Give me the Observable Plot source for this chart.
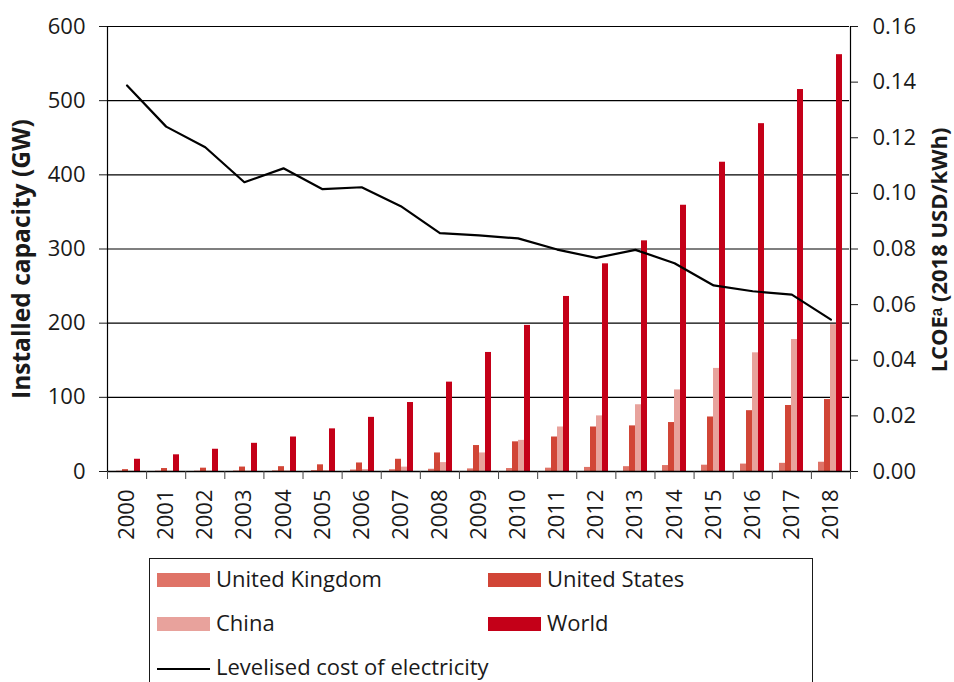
<!DOCTYPE html>
<html>
<head>
<meta charset="utf-8">
<script src="https://cdn.jsdelivr.net/npm/d3@7"></script>
<script src="https://cdn.jsdelivr.net/npm/@observablehq/plot@0.6"></script>
<style>
  html, body { margin: 0; padding: 0; background: #fff; }
  #wrap { position: relative; width: 954px; height: 682px; overflow: hidden; font-family: "Open Sans", sans-serif; color: #1a1a1a; }
  #wrap svg { position: absolute; left: 0; top: 0; }
  #legend { position: absolute; left: 149px; top: 558px; width: 664px; height: 200px; border: 1.3px solid #1a1a1a; box-sizing: border-box; }
  .item { position: absolute; font-size: 22px; line-height: 1; white-space: nowrap; }
  .sw { position: absolute; }
</style>
</head>
<body>
<div id="wrap"><div id="legend"></div></div>
<script>
// ---- data ----
const years = [2000, 2001, 2002, 2003, 2004, 2005, 2006, 2007, 2008, 2009, 2010, 2011, 2012, 2013, 2014, 2015, 2016, 2017, 2018];
const ukGW    = [0.4, 0.5, 0.5, 0.7, 0.9, 1.3, 2, 2.4, 3, 3.5, 4, 4.5, 5.5, 6.5, 8, 8.5, 10, 11, 12.5];
const usGW    = [2.5, 4, 4.5, 6, 6.5, 9, 11.5, 16.5, 25, 35, 40, 46.5, 60, 61.5, 66, 73.5, 82, 89, 97];
const chinaGW = [0.3, 0.4, 0.5, 0.6, 0.8, 1.3, 2.6, 5.9, 12, 25, 42, 60, 75, 90, 110, 139, 160, 178, 198];
const worldGW = [16.5, 22.5, 30, 38, 46.5, 57.5, 73, 93, 120.5, 160.5, 197, 236, 280, 311, 359, 417, 469, 515, 562];
const lcoe    = [0.1388, 0.124, 0.1166, 0.104, 0.109, 0.1015, 0.1022, 0.0954, 0.0857, 0.0849, 0.0838, 0.0798, 0.0768, 0.0797, 0.0749, 0.0669, 0.0648, 0.0636, 0.0546];
const seriesNames = ["United Kingdom", "United States", "China", "World"];
const seriesColors = ["#df7367", "#d14536", "#e8a29c", "#c40018"];
const capTicks = [0, 100, 200, 300, 400, 500, 600];
const lcoeTicks = [0, 0.02, 0.04, 0.06, 0.08, 0.10, 0.12, 0.14, 0.16];
const lineName = "Levelised cost of electricity";
const leftTitle = "Installed capacity (GW)";
const rightTitle = "LCOEᵃ (2018 USD/kWh)";

const seriesValues = [ukGW, usGW, chinaGW, worldGW];
const rows = years.flatMap((yr, i) => seriesNames.map((s, k) => ({year: yr, series: s, value: seriesValues[k][i]})));
const lcoeRows = years.map((yr, i) => ({year: yr, lcoe: lcoe[i]}));
const bounds = [years[0] - 0.5, ...years.map(y => y + 0.5)];

const W = 954, H = 550;
const M = {marginLeft: 107, marginRight: 104, marginTop: 26, marginBottom: 79};
const font = {fontFamily: "'Open Sans', sans-serif", fontSize: "22px", color: "#1a1a1a", background: "transparent", overflow: "visible"};

// ---- bars (faceted by year) ----
const bars = Plot.plot({
  width: W, height: H, ...M,
  style: font,
  fx: {domain: years, padding: 0, axis: null},
  x: {domain: seriesNames, paddingInner: 0, paddingOuter: 1.1, axis: null},
  y: {domain: [0, 600], axis: null},
  color: {domain: seriesNames, range: seriesColors},
  marks: [
    Plot.ruleY(capTicks.slice(1), {stroke: "#000", strokeWidth: 1.2}),
    Plot.barY(rows, {fx: "year", x: "series", y: "value", fill: "series"})
  ]
});

// ---- overlay: line, axes ----
const overlay = Plot.plot({
  width: W, height: H, ...M,
  style: font,
  x: {domain: [bounds[0], bounds[bounds.length - 1]], axis: null},
  y: {domain: [0, 0.16], axis: null},
  marks: [
    Plot.ruleX([bounds[0], bounds[bounds.length - 1]], {stroke: "#000", strokeWidth: 1.2}),
    Plot.ruleY([0], {stroke: "#000", strokeWidth: 1.3}),
    Plot.line(lcoeRows, {x: "year", y: "lcoe", stroke: "#000", strokeWidth: 2.2}),
    Plot.axisX({ticks: bounds, tickSize: 8, tickFormat: () => "", stroke: "#444", label: null}),
    Plot.axisX({ticks: years, tickSize: 0, tickPadding: 18, tickRotate: -90, tickFormat: d => String(d), label: null}),
    Plot.axisY({anchor: "right", ticks: lcoeTicks, tickSize: 7, tickPadding: 15, tickFormat: d => d.toFixed(2), label: null}),
    Plot.text([rightTitle], {frameAnchor: "right", textAnchor: "middle", dx: 89, dy: 1, rotate: -90, fontWeight: "bold", fontSize: 22})
  ]
});

// left axis with the capacity scale
const leftAxis = Plot.plot({
  width: W, height: H, ...M,
  style: font,
  x: {domain: [0, 1], axis: null},
  y: {domain: [0, 600], axis: null},
  marks: [
    Plot.axisY({anchor: "left", ticks: capTicks, tickSize: 8, tickPadding: 14, tickFormat: d => String(d), label: null}),
    Plot.text([leftTitle], {frameAnchor: "left", textAnchor: "middle", dx: -85, dy: 10, rotate: -90, fontWeight: "bold", fontSize: 24.5})
  ]
});

const wrap = document.getElementById("wrap");
wrap.insertBefore(leftAxis, wrap.firstChild);
wrap.insertBefore(overlay, wrap.firstChild);
wrap.insertBefore(bars, wrap.firstChild);

// ---- legend ----
const legend = document.getElementById("legend");
const legendItems = [
  {label: seriesNames[0], color: seriesColors[0], col: 0, row: 0, kind: "bar"},
  {label: seriesNames[1], color: seriesColors[1], col: 1, row: 0, kind: "bar"},
  {label: seriesNames[2], color: seriesColors[2], col: 0, row: 1, kind: "bar"},
  {label: seriesNames[3], color: seriesColors[3], col: 1, row: 1, kind: "bar"},
  {label: lineName, color: "#000", col: 0, row: 2, kind: "line"}
];
legendItems.forEach(it => {
  const x0 = 7 + it.col * 331, y0 = 14 + it.row * 44;
  const sw = document.createElement("div");
  sw.className = "sw";
  sw.style.left = x0 + "px";
  sw.style.width = "53px";
  if (it.kind === "bar") { sw.style.top = y0 + "px"; sw.style.height = "14px"; sw.style.background = it.color; }
  else { sw.style.top = (y0 + 7) + "px"; sw.style.height = "2px"; sw.style.background = it.color; }
  legend.appendChild(sw);
  const t = document.createElement("div");
  t.className = "item";
  t.textContent = it.label;
  t.style.left = (x0 + 59) + "px";
  t.style.top = (y0 - 6) + "px";
  legend.appendChild(t);
});
</script>
</body>
</html>
